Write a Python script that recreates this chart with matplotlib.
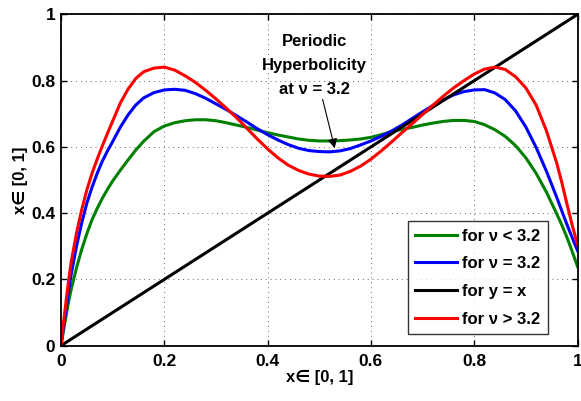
import matplotlib
matplotlib.use("Agg")
import matplotlib.pyplot as plt

plt.rcParams['font.family'] = ['Liberation Sans', 'DejaVu Sans']
plt.rcParams['font.weight'] = 'bold'
plt.rcParams['axes.labelweight'] = 'bold'
plt.rcParams['font.size'] = 12

# values
x_pts = [0, 0.005, 0.01, 0.015, 0.02, 0.03, 0.04, 0.05, 0.06, 0.07, 0.08, 0.09,
         0.1, 0.115, 0.13, 0.145, 0.16, 0.18, 0.2, 0.22, 0.24, 0.26, 0.28, 0.3,
         0.32, 0.34, 0.36, 0.38, 0.4, 0.42, 0.44, 0.46, 0.48, 0.5, 0.52, 0.54,
         0.56, 0.58, 0.6, 0.62, 0.64, 0.66, 0.68, 0.7, 0.72, 0.74, 0.76, 0.78,
         0.8, 0.82, 0.84, 0.86, 0.88, 0.9, 0.92, 0.94, 0.96, 0.97, 0.98, 0.99, 1.0]
y_below = [0, 0.047, 0.092, 0.135, 0.172, 0.235, 0.29, 0.338, 0.38, 0.414, 0.445, 0.472,
           0.497, 0.53, 0.561, 0.591, 0.617, 0.646, 0.663, 0.673, 0.679, 0.682, 0.682, 0.679,
           0.673, 0.666, 0.659, 0.651, 0.643, 0.636, 0.63, 0.624, 0.62, 0.618, 0.618, 0.619,
           0.621, 0.624, 0.629, 0.637, 0.646, 0.653, 0.659, 0.666, 0.672, 0.677, 0.68, 0.68,
           0.677, 0.667, 0.652, 0.632, 0.604, 0.567, 0.52, 0.463, 0.397, 0.363, 0.325, 0.283, 0.239]
y_equal = [0, 0.058, 0.113, 0.168, 0.218, 0.3, 0.37, 0.43, 0.478, 0.52, 0.557, 0.588,
           0.616, 0.66, 0.697, 0.727, 0.748, 0.764, 0.772, 0.774, 0.771, 0.761, 0.747, 0.73,
           0.713, 0.694, 0.675, 0.655, 0.637, 0.621, 0.607, 0.596, 0.589, 0.586, 0.585, 0.588,
           0.595, 0.606, 0.618, 0.632, 0.648, 0.666, 0.686, 0.706, 0.725, 0.742, 0.757, 0.767,
           0.772, 0.773, 0.763, 0.743, 0.709, 0.66, 0.598, 0.526, 0.447, 0.405, 0.364, 0.325, 0.287]
y_above = [0, 0.07, 0.137, 0.2, 0.255, 0.34, 0.41, 0.47, 0.52, 0.563, 0.603, 0.641,
           0.678, 0.733, 0.775, 0.807, 0.827, 0.838, 0.841, 0.832, 0.815, 0.795, 0.771, 0.745,
           0.717, 0.688, 0.656, 0.624, 0.594, 0.567, 0.545, 0.529, 0.518, 0.512, 0.511, 0.515,
           0.526, 0.542, 0.563, 0.588, 0.615, 0.643, 0.67, 0.698, 0.726, 0.753, 0.778, 0.8,
           0.82, 0.835, 0.841, 0.834, 0.812, 0.778, 0.726, 0.648, 0.55, 0.49, 0.425, 0.362, 0.305]
diag = [0, 1]

labels = ['for \u03bd < 3.2', 'for \u03bd = 3.2', 'for y = x', 'for \u03bd > 3.2']

fig = plt.figure(figsize=(5.81, 4.01), dpi=100)
ax = fig.add_axes([0.105, 0.138, 0.889, 0.826])

ax.plot(x_pts, y_below, color='#008000', lw=2.2, label=labels[0])
ax.plot(x_pts, y_equal, color='#0000ff', lw=2.2, label=labels[1])
ax.plot(diag, diag, color='black', lw=2.2, label=labels[2])
ax.plot(x_pts, y_above, color='#ff0000', lw=2.2, label=labels[3])

ax.set_xlim(0, 1)
ax.set_ylim(0, 1)
ticks = [0, 0.2, 0.4, 0.6, 0.8, 1]
ax.set_xticks(ticks)
ax.set_yticks(ticks)
ax.set_xticklabels(['0', '0.2', '0.4', '0.6', '0.8', '1'])
ax.set_yticklabels(['0', '0.2', '0.4', '0.6', '0.8', '1'])
ax.tick_params(direction='in', length=4, width=1, top=True, right=True, labelsize=12.5)
ax.tick_params(axis='x', pad=6)
ax.tick_params(axis='y', pad=4)
for s in ax.spines.values():
    s.set_linewidth(1.3)

ax.grid(True, color='black', linestyle=(0, (1, 4)), linewidth=0.7, alpha=0.6)

ax.set_xlabel('x\u2208 [0, 1]', fontsize=12, labelpad=1)
ax.set_ylabel('x\u2208 [0, 1]', fontsize=12, labelpad=2)

ax.annotate('Periodic\nHyperbolicity\nat \u03bd = 3.2', xy=(0.530, 0.596), xytext=(0.49, 0.752),
            ha='center', va='bottom', fontsize=12, linespacing=1.75,
            arrowprops=dict(arrowstyle='-|>', color='black', lw=0.8, mutation_scale=14,
                            shrinkA=0, shrinkB=0))

leg = ax.legend(loc='lower right', bbox_to_anchor=(0.942, 0.035), fontsize=12,
                frameon=True, fancybox=False, edgecolor='black', handlelength=2.5,
                handletextpad=0.3, labelspacing=0.76, borderpad=0.45, borderaxespad=0)
leg.get_frame().set_linewidth(1.0)

fig.savefig('out.png', dpi=100)
